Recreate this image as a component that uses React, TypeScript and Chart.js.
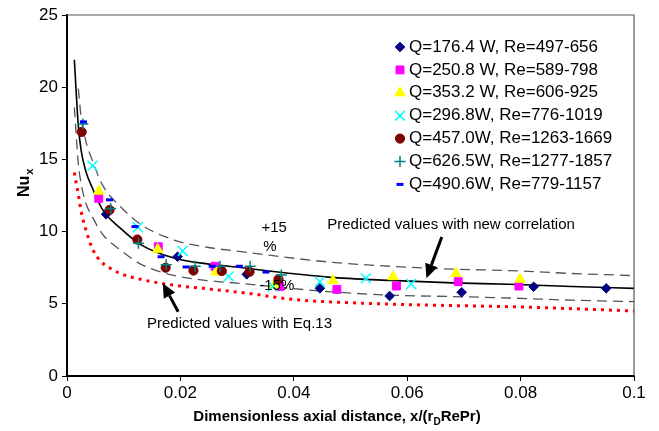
import React, { useEffect, useRef } from 'react';
import { Chart, registerables } from 'chart.js';

Chart.register(...registerables);

// ---- axis ticks ----
const X_TICKS = [0, 0.02, 0.04, 0.06, 0.08, 0.1];
const Y_TICKS = [0, 5, 10, 15, 20, 25];

// ---- measured series ----
const LABELS = [
  'Q=176.4 W, Re=497-656',
  'Q=250.8 W, Re=589-798',
  'Q=353.2 W, Re=606-925',
  'Q=296.8W, Re=776-1019',
  'Q=457.0W, Re=1263-1669',
  'Q=626.5W, Re=1277-1857',
  'Q=490.6W, Re=779-1157',
];

const Q176_X = [0.0069, 0.0195, 0.0317, 0.0446, 0.0569, 0.0696, 0.0823, 0.0951];
const Q176_Y = [11.2, 8.26, 7.04, 6.07, 5.54, 5.8, 6.18, 6.07];

const Q250_X = [0.0056, 0.0161, 0.0261, 0.0375, 0.0476, 0.0581, 0.069, 0.0797];
const Q250_Y = [12.3, 8.95, 7.6, 6.2, 6.0, 6.23, 6.53, 6.23];

const Q353_X = [0.0056, 0.016, 0.0263, 0.0366, 0.0469, 0.0575, 0.0686, 0.0799];
const Q353_Y = [12.8, 8.77, 7.2, 6.3, 6.6, 6.88, 7.1, 6.7];

const Q296_X = [0.0045, 0.0125, 0.0204, 0.0285, 0.0363, 0.0446, 0.0527, 0.0607];
const Q296_Y = [14.56, 10.3, 8.66, 6.9, 6.2, 6.53, 6.76, 6.37];

const Q457_X = [0.0026, 0.0075, 0.0124, 0.0174, 0.0223, 0.0273, 0.0322, 0.0373];
const Q457_Y = [16.9, 11.5, 9.45, 7.5, 7.3, 7.27, 7.22, 6.7];

const Q626_X = [0.0028, 0.0077, 0.0126, 0.0175, 0.0226, 0.027, 0.0323, 0.0378];
const Q626_Y = [17.45, 11.6, 9.2, 7.7, 7.6, 7.6, 7.6, 7.0];

const Q490_X = [0.0029, 0.0075, 0.012, 0.0166, 0.021, 0.0256, 0.0304, 0.0351];
const Q490_Y = [17.6, 12.2, 10.35, 8.26, 7.55, 7.6, 7.6, 7.2];

// ---- correlation curves ----
const CURVE_X = [0.0013, 0.0016, 0.002, 0.0025, 0.0033, 0.0045, 0.0063, 0.0095, 0.013, 0.019, 0.025, 0.031, 0.036, 0.046, 0.057, 0.068, 0.078, 0.089, 0.1];
const NEW_CORR = [21.9, 19.8, 17.3, 15.6, 14.2, 13.0, 11.5, 10.2, 9.1, 8.15, 7.75, 7.5, 7.25, 6.85, 6.62, 6.45, 6.35, 6.2, 6.07];
const PLUS15 = [null, null, 19.9, 17.9, 16.3, 14.9, 13.2, 11.7, 10.5, 9.4, 8.9, 8.6, 8.35, 7.9, 7.6, 7.4, 7.3, 7.1, 6.95];
const MINUS15 = [18.6, 16.8, 14.7, 13.3, 12.0, 11.0, 9.8, 8.7, 7.75, 6.95, 6.6, 6.4, 6.2, 5.85, 5.6, 5.5, 5.4, 5.25, 5.15];

const EQ13_X = [0.0013, 0.0016, 0.0019, 0.0022, 0.0025, 0.0035, 0.0045, 0.0058, 0.0075, 0.0094, 0.0135, 0.02, 0.024, 0.032, 0.04, 0.055, 0.065, 0.078, 0.09, 0.1];
const EQ13_Y = [14.1, 13.4, 12.8, 12.1, 11.4, 9.9, 8.8, 8.0, 7.5, 7.1, 6.65, 6.23, 6.07, 5.72, 5.3, 5.0, 4.9, 4.8, 4.65, 4.5];

const FONT = "'Liberation Sans', Arial, sans-serif";

type Style = { point: string; color: string; r: number; bw: number };
const STYLES: Style[] = [
  { point: 'rectRot', color: '#000080', r: 4.8, bw: 1 },
  { point: 'rect', color: '#FF00FF', r: 5.6, bw: 1 },
  { point: 'triangle', color: '#FFFF00', r: 6, bw: 1 },
  { point: 'crossRot', color: '#00FFFF', r: 7, bw: 1.5 },
  { point: 'circle', color: '#800000', r: 4.6, bw: 1 },
  { point: 'cross', color: '#008080', r: 5.5, bw: 1.5 },
  { point: 'line', color: '#0000FF', r: 3.5, bw: 3 },
];

const SERIES_X = [Q176_X, Q250_X, Q353_X, Q296_X, Q457_X, Q626_X, Q490_X];
const SERIES_Y = [Q176_Y, Q250_Y, Q353_Y, Q296_Y, Q457_Y, Q626_Y, Q490_Y];

function pts(xs: number[], ys: (number | null)[]) {
  const out: { x: number; y: number }[] = [];
  xs.forEach((x, i) => {
    const y = ys[i];
    if (y !== null && y !== undefined) out.push({ x, y });
  });
  return out;
}

function drawMarker(ctx: CanvasRenderingContext2D, s: Style, x: number, y: number) {
  const r = s.r;
  ctx.save();
  ctx.fillStyle = s.color;
  ctx.strokeStyle = s.color;
  ctx.lineWidth = s.bw;
  ctx.beginPath();
  switch (s.point) {
    case 'rectRot':
      ctx.moveTo(x, y - r); ctx.lineTo(x + r, y); ctx.lineTo(x, y + r); ctx.lineTo(x - r, y); ctx.closePath();
      ctx.fill(); ctx.stroke(); break;
    case 'rect': {
      const h = r * Math.SQRT1_2;
      ctx.rect(x - h, y - h, 2 * h, 2 * h); ctx.fill(); ctx.stroke(); break;
    }
    case 'triangle':
      ctx.moveTo(x, y - r); ctx.lineTo(x + r * 0.866, y + r * 0.5); ctx.lineTo(x - r * 0.866, y + r * 0.5); ctx.closePath();
      ctx.fill(); ctx.stroke(); break;
    case 'circle':
      ctx.arc(x, y, r, 0, Math.PI * 2); ctx.fill(); ctx.stroke(); break;
    case 'crossRot': {
      const d = r * Math.SQRT1_2;
      ctx.moveTo(x - d, y - d); ctx.lineTo(x + d, y + d); ctx.moveTo(x + d, y - d); ctx.lineTo(x - d, y + d); ctx.stroke(); break;
    }
    case 'cross':
      ctx.moveTo(x - r, y); ctx.lineTo(x + r, y); ctx.moveTo(x, y - r); ctx.lineTo(x, y + r); ctx.stroke(); break;
    case 'line':
      ctx.moveTo(x - r, y); ctx.lineTo(x + r, y); ctx.stroke(); break;
  }
  ctx.restore();
}

function arrow(ctx: CanvasRenderingContext2D, x0: number, y0: number, x1: number, y1: number) {
  const ang = Math.atan2(y1 - y0, x1 - x0);
  const L = 14, W = 6.5;
  const bx = x1 - Math.cos(ang) * L, by = y1 - Math.sin(ang) * L;
  ctx.save();
  ctx.strokeStyle = '#000';
  ctx.fillStyle = '#000';
  ctx.lineWidth = 3;
  ctx.beginPath(); ctx.moveTo(x0, y0); ctx.lineTo(bx, by); ctx.stroke();
  ctx.beginPath();
  ctx.moveTo(x1, y1);
  ctx.lineTo(bx + Math.sin(ang) * W, by - Math.cos(ang) * W);
  ctx.lineTo(bx - Math.sin(ang) * W, by + Math.cos(ang) * W);
  ctx.closePath(); ctx.fill();
  ctx.restore();
}

const overlay = {
  id: 'overlay',
  afterDraw(chart: any) {
    const { ctx, chartArea: a, scales } = chart;
    const xs = scales.x, ys = scales.y;
    const px = (v: number) => xs.getPixelForValue(v);
    const py = (v: number) => ys.getPixelForValue(v);
    ctx.save();
    // top & right frame
    ctx.strokeStyle = '#555';
    ctx.lineWidth = 1.2;
    ctx.beginPath();
    ctx.moveTo(a.left, a.top);
    ctx.lineTo(a.right, a.top);
    ctx.lineTo(a.right, a.bottom);
    ctx.stroke();

    // annotation texts
    ctx.fillStyle = '#000';
    ctx.textBaseline = 'middle';
    ctx.textAlign = 'left';
    ctx.font = `15px ${FONT}`;
    ctx.fillText('+15', px(0.0343), py(10.28));
    ctx.fillText('%', px(0.0346), py(8.95));
    ctx.fillText('-15%', px(0.0339), py(6.23));
    ctx.fillText('Predicted values with new correlation', px(0.0459), py(10.5));
    ctx.fillText('Predicted values with Eq.13', px(0.0141), py(3.6));

    // arrows
    arrow(ctx, px(0.0661), py(9.63), px(0.0634), py(6.77));
    arrow(ctx, px(0.0196), py(4.45), px(0.0169), py(6.42));

    // legend
    ctx.font = `17px ${FONT}`;
    LABELS.forEach((lab, i) => {
      const yy = 47 + i * 22.9;
      drawMarker(ctx, STYLES[i], 400, yy);
      ctx.fillStyle = '#000';
      ctx.fillText(lab, 409, yy);
    });

    // y title: Nu_x
    ctx.save();
    ctx.translate(29, 197);
    ctx.rotate(-Math.PI / 2);
    ctx.textBaseline = 'alphabetic';
    ctx.font = `bold 16px ${FONT}`;
    ctx.fillText('Nu', 0, 0);
    const wNu = ctx.measureText('Nu').width;
    ctx.font = `bold 11px ${FONT}`;
    ctx.fillText('x', wNu + 1, 4);
    ctx.restore();

    // x title
    ctx.textBaseline = 'alphabetic';
    const p1 = 'Dimensionless axial distance, x/(r';
    const sub = 'D';
    const p2 = 'RePr)';
    ctx.font = `bold 15px ${FONT}`;
    const w1 = ctx.measureText(p1).width;
    const w3 = ctx.measureText(p2).width;
    ctx.font = `bold 10px ${FONT}`;
    const w2 = ctx.measureText(sub).width;
    const total = w1 + w2 + w3;
    let sx = 337 - total / 2;
    const base = 421;
    ctx.font = `bold 15px ${FONT}`;
    ctx.fillText(p1, sx, base); sx += w1;
    ctx.font = `bold 10px ${FONT}`;
    ctx.fillText(sub, sx, base + 4); sx += w2;
    ctx.font = `bold 15px ${FONT}`;
    ctx.fillText(p2, sx, base);
    ctx.restore();
  },
};

export default function App() {
  const ref = useRef<HTMLCanvasElement | null>(null);
  useEffect(() => {
    if (!ref.current) return;
    const scatterSets = STYLES.map((s, i) => ({
      label: LABELS[i],
      data: pts(SERIES_X[i], SERIES_Y[i]),
      pointStyle: s.point,
      pointRadius: s.r,
      pointBorderWidth: s.bw,
      backgroundColor: s.color,
      borderColor: s.color,
      showLine: false,
      order: 10 - i,
    }));
    const lineSets = [
      { label: 'new', data: pts(CURVE_X, NEW_CORR), borderColor: '#000', borderWidth: 1.6, borderDash: [] as number[] },
      { label: '+15', data: pts(CURVE_X, PLUS15), borderColor: '#555', borderWidth: 1.3, borderDash: [10, 6] },
      { label: '-15', data: pts(CURVE_X, MINUS15), borderColor: '#555', borderWidth: 1.3, borderDash: [10, 6] },
      { label: 'eq13', data: pts(EQ13_X, EQ13_Y), borderColor: '#FF0000', borderWidth: 3, borderDash: [3, 5] },
    ].map((d, i) => ({
      ...d,
      showLine: true,
      pointRadius: 0,
      fill: false,
      tension: 0.4,
      cubicInterpolationMode: 'monotone',
      order: 20 + i,
    }));

    const chart = new Chart(ref.current, {
      type: 'scatter',
      data: { datasets: [...scatterSets, ...lineSets] as any },
      options: {
        animation: false,
        responsive: false,
        layout: { padding: { top: 15, right: 25, left: 0, bottom: 0 } },
        plugins: { legend: { display: false }, tooltip: { enabled: false } },
        scales: {
          x: {
            type: 'linear',
            min: 0,
            max: 0.1,
            afterBuildTicks: (sc: any) => { sc.ticks = X_TICKS.map((v) => ({ value: v })); },
            afterFit: (sc: any) => { sc.height = 55; },
            ticks: {
              color: '#000',
              font: { family: FONT, size: 17 },
              padding: 2,
              maxRotation: 0,
              callback: (v: any) => String(parseFloat(Number(v).toFixed(2))),
            },
            grid: { drawOnChartArea: false, tickLength: 5, color: '#000', lineWidth: 1 },
            border: { color: '#000', width: 2 },
          },
          y: {
            type: 'linear',
            min: 0,
            max: 25,
            afterBuildTicks: (sc: any) => { sc.ticks = Y_TICKS.map((v) => ({ value: v })); },
            afterFit: (sc: any) => { sc.width = 67; },
            ticks: { color: '#000', font: { family: FONT, size: 17 }, padding: 4 },
            grid: { drawOnChartArea: false, tickLength: 5, color: '#000', lineWidth: 1 },
            border: { color: '#000', width: 2 },
          },
        },
      },
      plugins: [overlay],
    } as any);
    return () => chart.destroy();
  }, []);
  return (
    <div style={{ position: 'fixed', left: 0, top: 0, width: 659, height: 431, background: '#fff' }}>
      <canvas ref={ref} width={659} height={431} style={{ width: 659, height: 431, display: 'block' }} />
    </div>
  );
}
